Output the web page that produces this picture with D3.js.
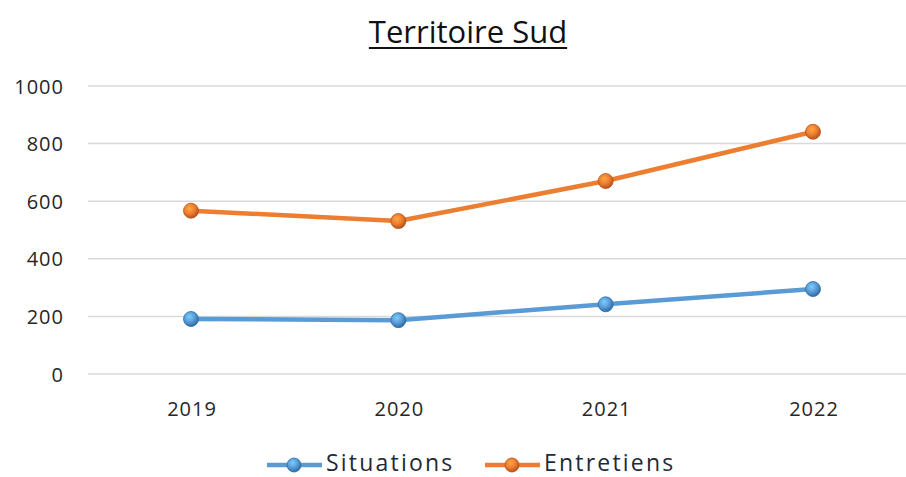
<!DOCTYPE html>
<html><head><meta charset="utf-8">
<script src="https://cdn.jsdelivr.net/npm/d3@7"></script>
<style>body{margin:0;background:#fff;}svg{display:block;}</style>
</head><body>
<script>
const categories = ["2019","2020","2021","2022"];
const situations = [191, 187, 242, 295];
const entretiens = [567, 531, 670, 841];
const yTicks = [0,200,400,600,800,1000];
const seriesNames = ["Situations","Entretiens"];
const colors = ["#5B9BD5","#ED7D31"];
const darks = ["#2E6DA4","#B5541A"];

const W=906,H=477;
const svg=d3.select("body").append("svg").attr("width",W).attr("height",H);
const font="'Open Sans', 'Noto Sans', sans-serif";

const x=d3.scalePoint().domain(categories).range([191,813]);
const y=d3.scaleLinear().domain([0,1000]).range([374,86]);

const defs=svg.append("defs");
colors.forEach((c,i)=>{
  const g=defs.append("radialGradient").attr("id","g"+i).attr("cx","40%").attr("cy","35%").attr("r","65%");
  g.append("stop").attr("offset","0%").attr("stop-color",d3.color(c).brighter(0.8));
  g.append("stop").attr("offset","55%").attr("stop-color",c);
  g.append("stop").attr("offset","100%").attr("stop-color",darks[i]);
});

// gridlines
svg.append("g").selectAll("line").data(yTicks).join("line")
  .attr("x1",88).attr("x2",W).attr("y1",d=>y(d)).attr("y2",d=>y(d))
  .attr("stroke","#d9d9d9").attr("stroke-width",1.5);

// y axis
const ya=svg.append("g").attr("transform","translate(77,0)")
  .call(d3.axisLeft(y).tickValues(yTicks).tickFormat(d3.format("d")).tickSize(0).tickPadding(13));
ya.select(".domain").remove();
ya.selectAll("text").attr("font-family",font).attr("font-size",20).attr("letter-spacing",1)
  .attr("fill","#262626").attr("dy","0.35em");

// x axis
const xa=svg.append("g").attr("transform","translate(0,374)")
  .call(d3.axisBottom(x).tickSize(0).tickPadding(28));
xa.select(".domain").remove();
xa.selectAll("text").attr("font-family",font).attr("font-size",20).attr("letter-spacing",1)
  .attr("fill","#262626").attr("dx","0.5");

// lines
const data=[situations,entretiens];
const line=d3.line().x((d,i)=>x(categories[i])).y(d=>y(d));
data.forEach((s,i)=>{
  svg.append("path").attr("d",line(s)).attr("fill","none").attr("stroke",colors[i]).attr("stroke-width",4.5).attr("stroke-linejoin","round");
  svg.append("g").selectAll("circle").data(s).join("circle")
    .attr("cx",(d,j)=>x(categories[j])).attr("cy",d=>y(d)).attr("r",7.5)
    .attr("fill","url(#g"+i+")").attr("stroke",darks[i]).attr("stroke-width",0.8);
});

// title
const t=svg.append("text").attr("x",468).attr("y",43).attr("text-anchor","middle")
  .attr("font-family",font).attr("font-size",31).attr("fill","#111").text("Territoire Sud");
const bb=t.node().getBBox();
svg.append("line").attr("x1",bb.x).attr("x2",bb.x+bb.width).attr("y1",48).attr("y2",48).attr("stroke","#111").attr("stroke-width",2);

// legend
const legX=[267,485];
seriesNames.forEach((n,i)=>{
  const g=svg.append("g").attr("transform",`translate(${legX[i]},465)`);
  g.append("line").attr("x1",0).attr("x2",55).attr("y1",0).attr("y2",0).attr("stroke",colors[i]).attr("stroke-width",4.5);
  g.append("circle").attr("cx",27).attr("cy",0).attr("r",7).attr("fill","url(#g"+i+")").attr("stroke",darks[i]).attr("stroke-width",0.8);
  g.append("text").attr("x",59).attr("y",5.5).attr("font-family",font).attr("font-size",23).attr("letter-spacing",2.2)
    .attr("fill","#1f2a36").text(n);
});
</script>
</body></html>
